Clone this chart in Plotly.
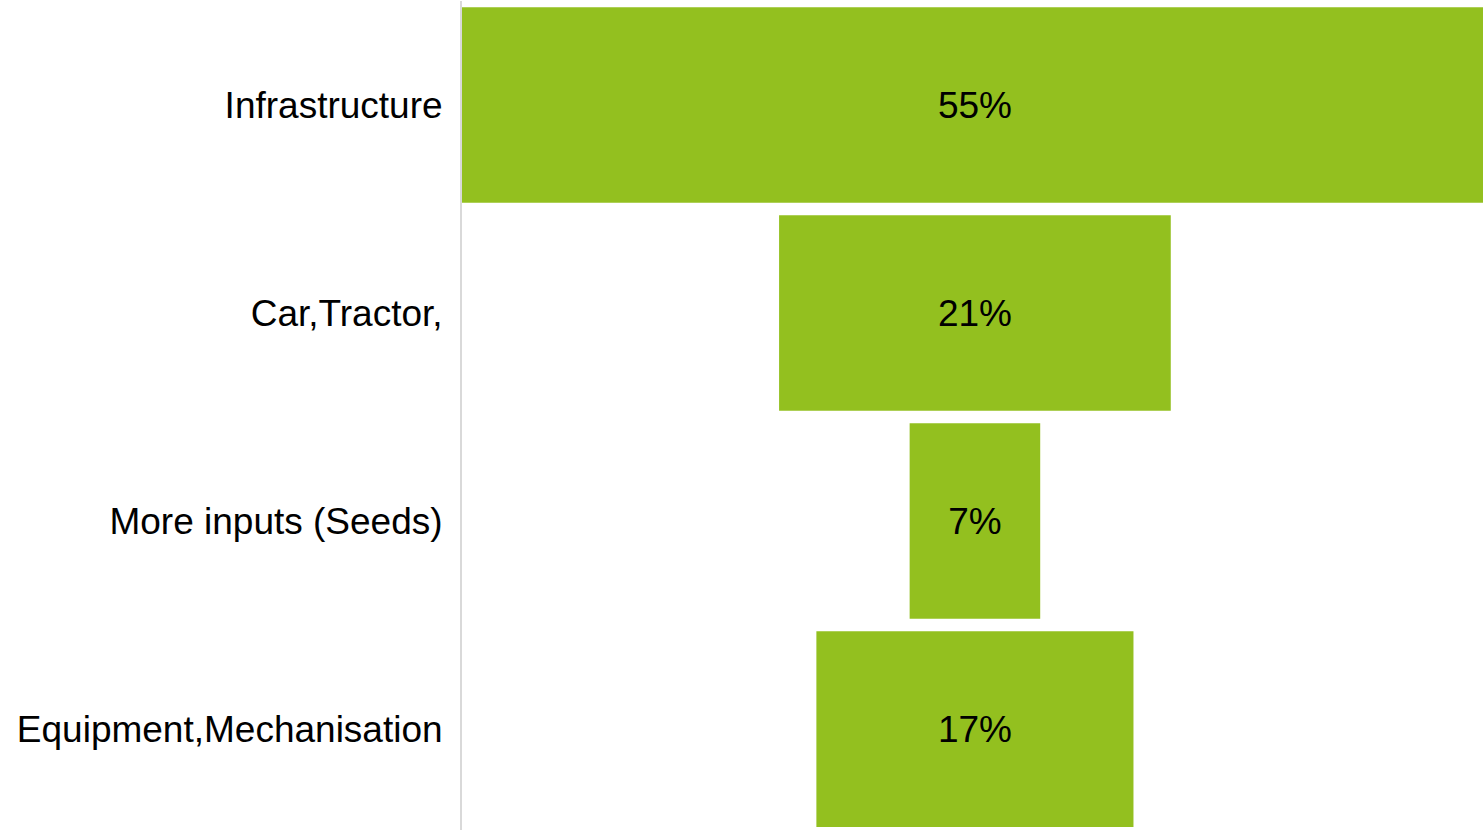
import plotly.graph_objects as go

# Share of spending by category
categories = ["Infrastructure", "Car,Tractor,", "More inputs (Seeds)", "Equipment,Mechanisation"]
shares = [55, 21, 7, 17]
labels = [f"{v}%" for v in shares]

BAR_GREEN = "#93C01F"
FONT = "Liberation Sans, Arial, sans-serif"

fig = go.Figure(
    go.Funnel(
        y=categories,
        x=shares,
        text=labels,
        textinfo="text",
        textposition="inside",
        insidetextanchor="middle",
        constraintext="none",
        textfont=dict(family=FONT, size=37, color="#000000"),
        marker=dict(color=BAR_GREEN, line=dict(width=0)),
        connector=dict(visible=False),
        hoverinfo="y+text",
    )
)

fig.update_layout(
    width=1483,
    height=830,
    margin=dict(l=462, r=0, t=1, b=0),
    paper_bgcolor="white",
    plot_bgcolor="white",
    funnelgap=0.06,
    showlegend=False,
    font=dict(family=FONT, size=37, color="#000000"),
    xaxis=dict(visible=False, range=[-27.5, 27.24]),
    yaxis=dict(
        range=[3.485, -0.5],
        showline=True,
        linecolor="#d9d9d9",
        linewidth=2,
        showgrid=False,
        zeroline=False,
        ticks="",
        ticklabelstandoff=10,
        tickfont=dict(family=FONT, size=37, color="#000000"),
    ),
)

fig.write_html("out.html")
